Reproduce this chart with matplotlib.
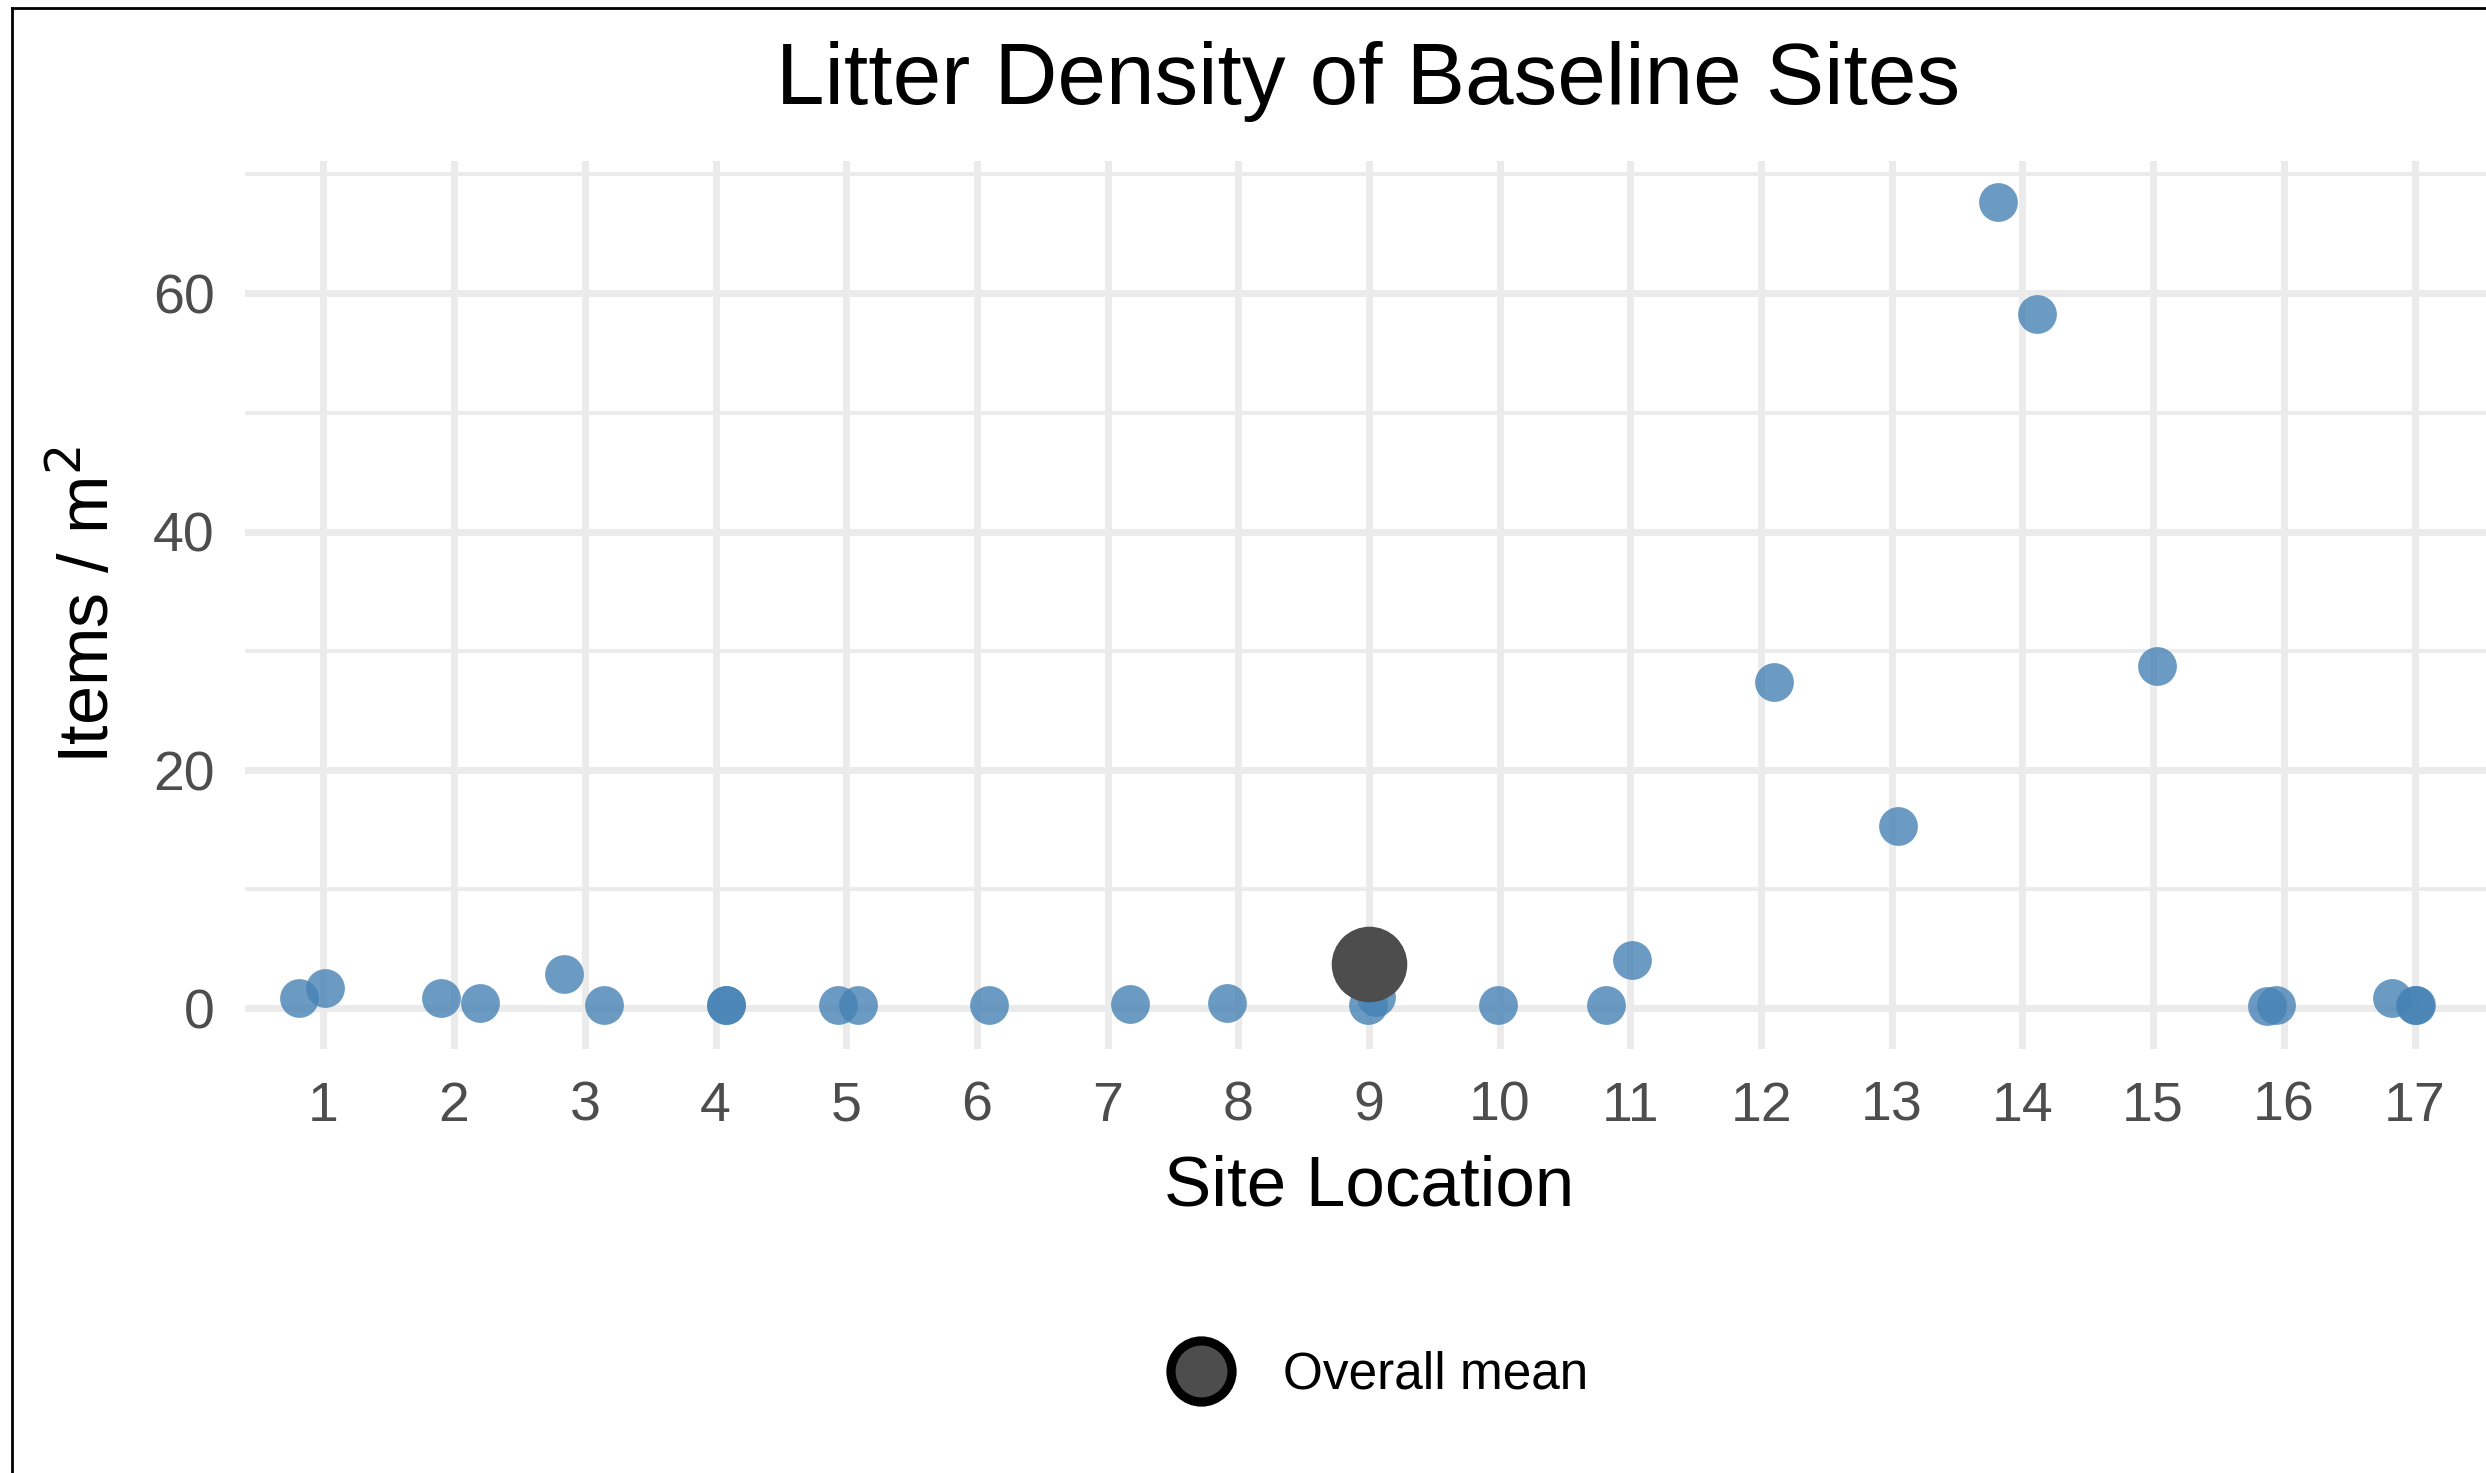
import matplotlib.pyplot as plt
from matplotlib.lines import Line2D

plt.rcParams['font.family'] = ['Liberation Sans', 'DejaVu Sans']

# Данные
site = [1, 1, 2, 2, 3, 3, 4, 4, 5, 5, 6, 7, 8, 9, 9, 10, 11, 11,
        12, 13, 14, 14, 15, 16, 16, 17, 17, 17]
jitter = [-0.19, 0.01, -0.10, 0.20, -0.16, 0.15, 0.08, 0.08, -0.06, 0.09,
          0.09, 0.17, -0.09, -0.01, 0.05, -0.01, -0.19, 0.01,
          0.10, 0.05, -0.19, 0.11, 0.03, -0.13, -0.06, -0.17, 0.00, 0.01]
density = [0.9, 1.7, 0.9, 0.5, 2.9, 0.3, 0.3, 0.3, 0.3, 0.3,
           0.3, 0.4, 0.5, 0.3, 1.0, 0.3, 0.3, 4.1,
           27.4, 15.3, 67.7, 58.3, 28.7, 0.2, 0.3, 0.9, 0.3, 0.3]
mean_site = 9
mean_value = 3.7
site_labels = [str(i) for i in range(1, 18)]

W, H, DPI = 2486, 1473, 200
fig = plt.figure(figsize=(W / DPI, H / DPI), dpi=DPI)

# Позиция панели в пикселях
left, right, top, bottom = 245, 2493, 161, 1049
ax = fig.add_axes([left / W, 1 - bottom / H, (right - left) / W, (bottom - top) / H])

x = [s + j for s, j in zip(site, jitter)]
ax.scatter(x, density, s=195, color='#4682B4', alpha=0.8, linewidths=0, zorder=3)
ax.scatter([mean_site], [mean_value], s=740, color='#4d4d4d', linewidths=0, zorder=4)

ax.set_xlim(0.4, 17.6)
ax.set_ylim(-3.4, 71.1)
ax.set_xticks(range(1, 18))
ax.set_xticklabels(site_labels)
ax.set_yticks([0, 20, 40, 60])
ax.set_yticks([10, 30, 50, 70], minor=True)

for sp in ax.spines.values():
    sp.set_visible(False)
ax.grid(True, which='major', color='#ebebeb', lw=2.5, zorder=0)
ax.grid(True, which='minor', axis='y', color='#ebebeb', lw=1.4, zorder=0)
ax.set_axisbelow(True)
ax.tick_params(which='both', length=0)
ax.tick_params(axis='x', pad=11.4, labelsize=20, labelcolor='#4d4d4d')
ax.tick_params(axis='y', pad=11, labelsize=20, labelcolor='#4d4d4d')

fig.text(1368 / W, 1 - 81 / H, 'Litter Density of Baseline Sites',
         ha='center', va='center', fontsize=31.4, color='black')
fig.text(1369 / W, 1 - 1187 / H, 'Site Location',
         ha='center', va='center', fontsize=25.5, color='black')
fig.text(90 / W, 1 - 605 / H, 'Items / m$^2$', rotation=90,
         ha='center', va='center', fontsize=25.3, color='black')

handle = Line2D([], [], linestyle='none', marker='o', markersize=22,
                markerfacecolor='#4d4d4d', markeredgecolor='black',
                markeredgewidth=3.3)
fig.legend([handle], ['Overall mean'], loc='center',
           bbox_to_anchor=(1374 / W, 1 - 1375 / H), frameon=False,
           fontsize=18.5, handletextpad=0.8, handlelength=1.6)

# Рамка вокруг картинки (видны только левая и верхняя стороны)
fig.add_artist(Line2D([12 / W, 12 / W], [0, 1 - 8 / H], color='black', lw=1.0,
                      transform=fig.transFigure))
fig.add_artist(Line2D([12 / W, 1], [1 - 8 / H, 1 - 8 / H], color='black', lw=1.0,
                      transform=fig.transFigure))

fig.savefig('out.png', dpi=DPI)
